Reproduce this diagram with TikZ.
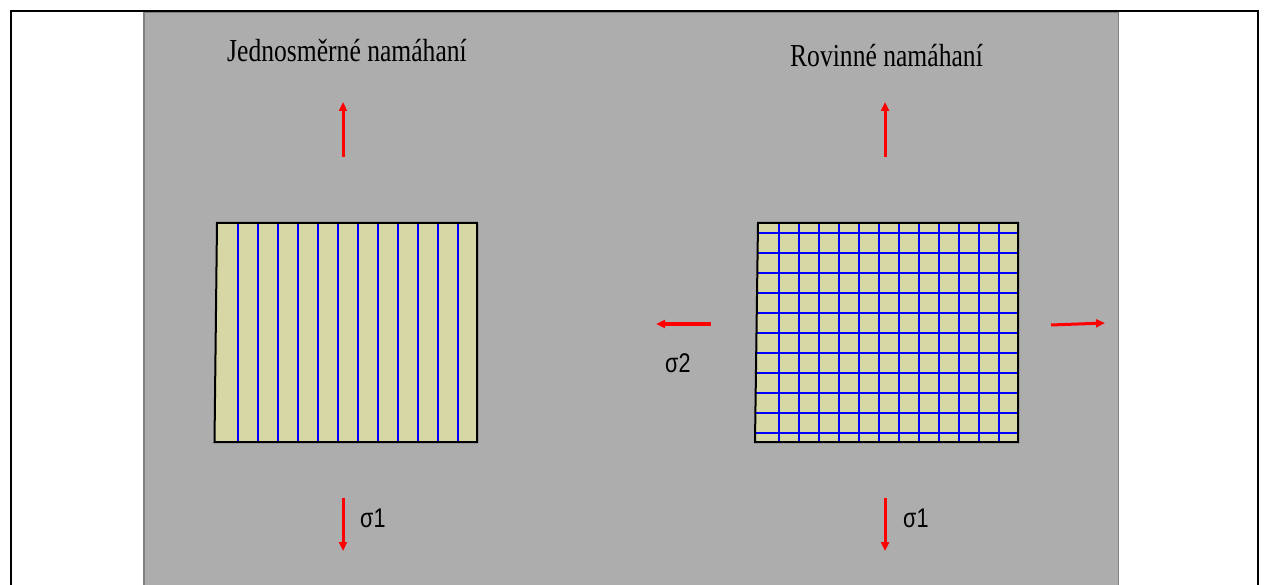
\documentclass[tikz,border=0pt]{standalone}
\usepackage{fontspec}
\setmainfont{Liberation Serif}
\newfontfamily\labelfont{Liberation Sans}
\usetikzlibrary{arrows.meta}
\definecolor{panelgray}{HTML}{ADADAD}
\definecolor{paneledge}{HTML}{7F7F7F}
\definecolor{khaki}{HTML}{D6D7A5}
\definecolor{gridblue}{HTML}{0000FF}
\definecolor{forcered}{HTML}{FF0000}
\tikzset{
  title/.style={inner sep=0pt, anchor=base, font=\fontsize{32bp}{36bp}\selectfont},
  siglabel/.style={inner sep=0pt, anchor=base west, font=\labelfont\fontsize{27bp}{30bp}\selectfont},
  force/.style={forcered, line width=3bp, -{Triangle[length=9bp,width=8bp]}},
  plate/.style={fill=khaki},
  plateedge/.style={draw=black, line width=2bp, line join=miter},
  fibre/.style={gridblue, line width=2bp}
}
\newcommand{\narrow}[1]{\scalebox{0.8}[1]{#1}}
\begin{document}
\begin{tikzpicture}[x=1bp,y=-1bp]
\useasboundingbox (0,0) rectangle (1264,585);
\fill[white] (0,0) rectangle (1264,585);
% outer frame
\draw[line width=2bp] (11,585) -- (11,11) -- (1258,11) -- (1258,585);
% grey panel
\draw[fill=panelgray, draw=paneledge, line width=1.5bp] (144,12.5) rectangle (1118.5,590);

% titles
\node[title] (t1) at (347,62) {\narrow{Jednosměrné namáhaní}};
\node[title] (t2) at (886.5,67) {\narrow{Rovinné namáhaní}};

% uniaxial plate
\coordinate (a1) at (217,223);
\coordinate (a2) at (477,223);
\coordinate (a3) at (477,442);
\coordinate (a4) at (214.5,442);
\fill[plate] (a1) -- (a2) -- (a3) -- (a4) -- cycle;
\foreach \k in {0,...,11} {
  \draw[fibre] ({238+20*\k},223) -- ({238+20*\k},442);
}
\draw[plateedge] (a1) -- (a2) -- (a3) -- (a4) -- cycle;

% biaxial plate
\coordinate (b1) at (758,223);
\coordinate (b2) at (1018,223);
\coordinate (b3) at (1018,442);
\coordinate (b4) at (755,442);
\fill[plate] (b1) -- (b2) -- (b3) -- (b4) -- cycle;
\begin{scope}
  \clip (b1) -- (b2) -- (b3) -- (b4) -- cycle;
  \foreach \k in {0,...,11} {
    \draw[fibre] ({779+20*\k},223) -- ({779+20*\k},442);
  }
  \foreach \k in {0,...,10} {
    \draw[fibre] (740,{233+20*\k}) -- (1020,{233+20*\k});
  }
\end{scope}
\draw[plateedge] (b1) -- (b2) -- (b3) -- (b4) -- cycle;

% loads
\coordinate (u1s) at (343,157); \coordinate (u1e) at (343,102);
\coordinate (u2s) at (885,157); \coordinate (u2e) at (885,102);
\coordinate (d1s) at (343,498); \coordinate (d1e) at (343,551);
\coordinate (d2s) at (885,498); \coordinate (d2e) at (885,551);
\coordinate (ls) at (711,324);  \coordinate (le) at (656,324);
\coordinate (rs) at (1051,325); \coordinate (re) at (1105,323);
\draw[force] (u1s) -- (u1e);
\draw[force] (u2s) -- (u2e);
\draw[force] (d1s) -- (d1e);
\draw[force] (d2s) -- (d2e);
\draw[force] (ls) -- (le);
\draw[force] (rs) -- (re);

% stress labels
\node[siglabel] (s1a) at (360,527) {\narrow{σ1}};
\node[siglabel] (s1b) at (903,527) {\narrow{σ1}};
\node[siglabel] (s2) at (665,373) {\narrow{σ2}};
\end{tikzpicture}
\end{document}
